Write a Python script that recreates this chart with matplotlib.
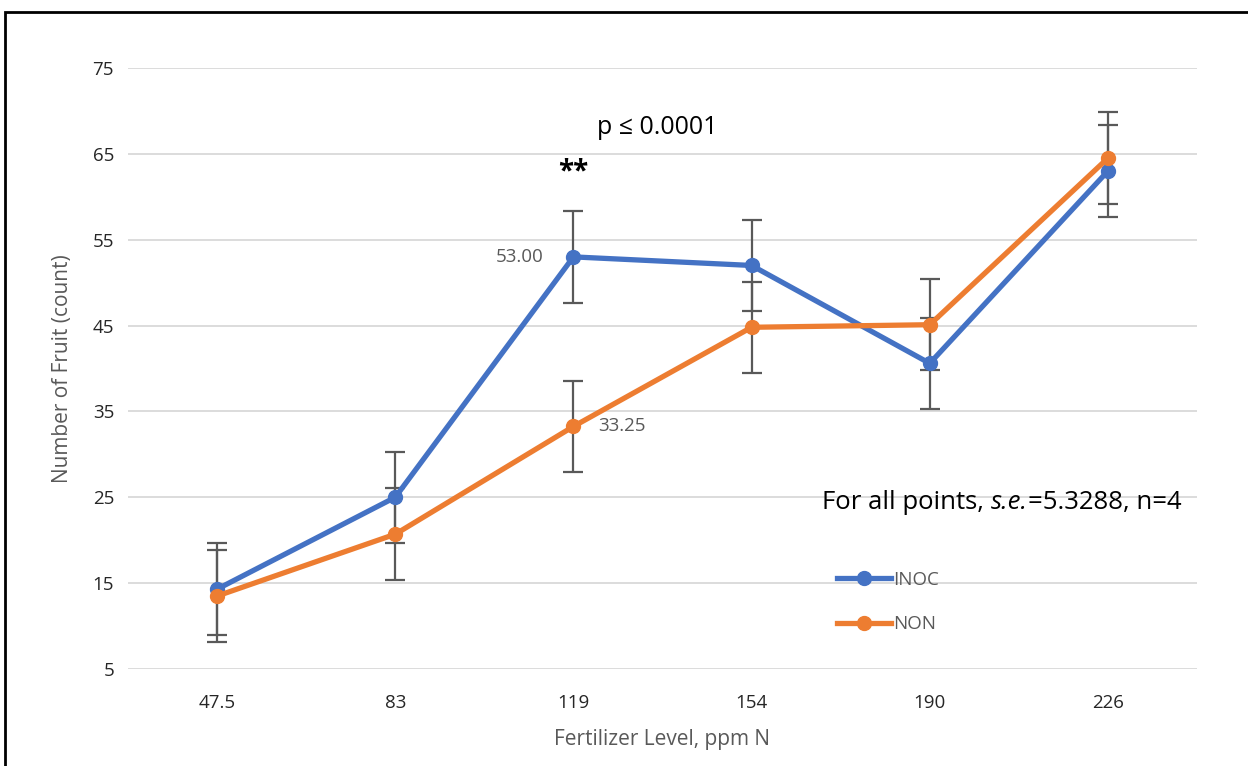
import matplotlib.pyplot as plt
from matplotlib.patches import Rectangle
from matplotlib.lines import Line2D

# data
levels = ["47.5", "83", "119", "154", "190", "226"]
inoc = [14.3, 25.0, 53.00, 52.0, 40.6, 63.0]
non = [13.5, 20.7, 33.25, 44.8, 45.1, 64.5]
se = 5.3288
yticks = [5, 15, 25, 35, 45, 55, 65, 75]

BLUE = "#4472C4"
ORANGE = "#ED7D31"
GREY = "#595959"

plt.rcParams['font.family'] = ['Open Sans', 'DejaVu Sans']

fig = plt.figure(figsize=(12.48, 7.66), dpi=100)
ax = fig.add_axes([128 / 1248, 97 / 766, (1197 - 128) / 1248, (669 - 68) / 766])

x = list(range(len(levels)))
for vals, col in [(inoc, BLUE), (non, ORANGE)]:
    ax.errorbar(x, vals, yerr=se, color=col, lw=3.8, marker="o", ms=10,
                ecolor=GREY, elinewidth=1.6, capsize=7, capthick=1.6,
                zorder=3)

ax.set_xlim(-0.5, len(levels) - 0.5)
ax.set_ylim(5, 75)
ax.set_xticks(x)
ax.set_xticklabels(levels)
ax.set_yticks(yticks)
ax.tick_params(length=0, labelsize=13.5, labelcolor="#262626")
ax.tick_params(axis="x", pad=18)
ax.tick_params(axis="y", pad=10)
ax.grid(axis="y", color="#D9D9D9", lw=1.3)
ax.set_axisbelow(True)
for s in ax.spines.values():
    s.set_visible(False)

ax.set_xlabel("Fertilizer Level, ppm N", fontsize=15, color=GREY, labelpad=12)
ax.set_ylabel("Number of Fruit (count)", fontsize=15, color=GREY, labelpad=14)

ax.text(1.83, 53.0, "53.00", ha="right", va="center", fontsize=13.5, color=GREY)
ax.text(2.14, 33.25, "33.25", ha="left", va="center", fontsize=13.5, color=GREY)
ax.text(2.0, 62.9, "**", ha="center", va="center", fontsize=20, fontweight="bold")
ax.text(2.47, 68.1, "p ≤ 0.0001", ha="center", va="center", fontsize=18)

# note with an italic "s.e." in the middle
t1 = ax.text(3.395, 24.45, "For all points, ", ha="left", va="center", fontsize=18.5)
t2 = ax.annotate("s.e.", xy=(1, 0), xycoords=t1, ha="left", va="bottom",
                 fontsize=18.5, style="italic")
ax.annotate("=5.3288, n=4", xy=(1, 0), xycoords=t2, ha="left", va="bottom",
            fontsize=18.5)

handles = [Line2D([], [], color=BLUE, lw=3.8, marker="o", ms=10),
           Line2D([], [], color=ORANGE, lw=3.8, marker="o", ms=10)]
leg = ax.legend(handles, ["INOC", "NON"], loc="center left",
                bbox_to_anchor=(0.663, 0.1115), frameon=False,
                fontsize=13.5, handlelength=2.9, labelspacing=1.4,
                handletextpad=0.1, borderaxespad=0, borderpad=0)
for t in leg.get_texts():
    t.set_color(GREY)

# outer frame of the chart
fig.patches.append(Rectangle((5 / 1248, -0.01), 1.0, 1 - 12 / 766 + 0.01,
                             transform=fig.transFigure, fill=False,
                             edgecolor="black", lw=2))

fig.savefig("out.png", dpi=100)
